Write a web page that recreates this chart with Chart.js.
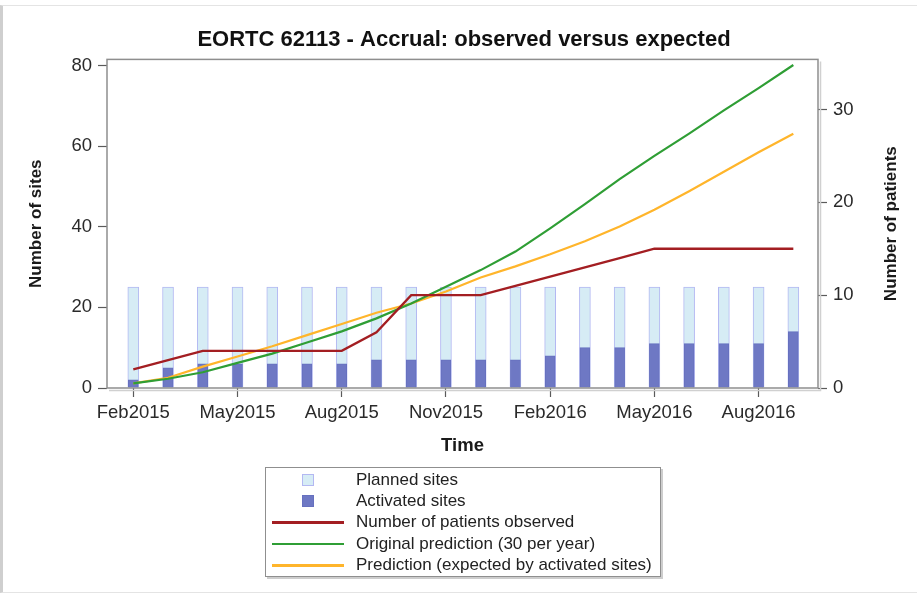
<!DOCTYPE html>
<html>
<head>
<meta charset="utf-8">
<script src="https://cdn.jsdelivr.net/npm/chart.js@4.4.1/dist/chart.umd.min.js"></script>
<style>
  html, body { margin: 0; padding: 0; background: #fff; }
  .page { position: relative; width: 917px; height: 597px; overflow: hidden; }
  .edge { position: absolute; left: 0; top: 5px; width: 914px; height: 586px;
          border-left: 3px solid #cfcfcf; border-top: 1px solid #e4e4e4; border-bottom: 1px solid #e4e4e4; }
  .chart-wrap { position: absolute; left: 0; top: 0; width: 917px; height: 597px; }
  #legend { position: absolute; left: 265px; top: 467px; width: 396px; height: 110px;
            box-sizing: border-box; border: 1px solid #8f8f8f; box-shadow: 2px 2px 0 #cdcdcd;
            background: #fff; padding-top: 1px;
            font-family: 'Liberation Sans', Arial, sans-serif; font-size: 17px; color: #222; }
  #legend .row { display: flex; align-items: center; height: 21.4px; white-space: nowrap; }
  #legend .sym { margin-left: 6px; width: 72px; display: flex; justify-content: center; align-items: center; }
  #legend .txt { margin-left: 12px; }
</style>
</head>
<body>
<div class="page">
  <div class="edge"></div>
  <div class="chart-wrap"><canvas id="accrual"></canvas></div>
  <div id="legend"></div>
</div>
<script>
// months on the x axis, one bar per month
const months = ['Feb2015','Mar2015','Apr2015','May2015','Jun2015','Jul2015','Aug2015','Sep2015','Oct2015','Nov2015',
                'Dec2015','Jan2016','Feb2016','Mar2016','Apr2016','May2016','Jun2016','Jul2016','Aug2016','Sep2016'];
const xTickIdx = [0, 3, 6, 9, 12, 15, 18];
const sitesTicks = [0, 20, 40, 60, 80];
const patientTicks = [0, 10, 20, 30];

// sites (left axis)
const plannedSites   = [25,25,25,25,25,25,25,25,25,25,25,25,25,25,25,25,25,25,25,25];
const activatedSites = [2,5,6,6,6,6,6,7,7,7,7,7,8,10,10,11,11,11,11,14];

// patients (right axis)
const observed   = [2,3,4,4,4,4,4,6,10,10,10,11,12,13,14,15,15,15,15,15];
const original   = [0.5,1.0,1.7,2.7,3.7,4.9,6.1,7.5,9.1,10.9,12.7,14.7,17.2,19.8,22.5,25.0,27.4,29.9,32.3,34.8];
const predicted  = [0.5,1.1,2.3,3.4,4.5,5.7,6.9,8.1,9.1,10.4,11.9,13.1,14.4,15.8,17.4,19.2,21.2,23.3,25.4,27.4];

const pts = arr => arr.map((v, i) => ({ x: i, y: v }));
const font = "'Liberation Sans', Arial, sans-serif";

// plot frame with a soft shadow, plus the right axis title read bottom-to-top
const framePlugin = {
  id: 'frame',
  afterDatasetsDraw(chart) {
    const { ctx, chartArea: a } = chart;
    ctx.save();
    ctx.strokeStyle = '#d0d0d0';
    ctx.lineWidth = 1.5;
    ctx.beginPath();
    ctx.moveTo(a.left + 2, a.bottom + 2.5); ctx.lineTo(a.right + 2.5, a.bottom + 2.5); ctx.lineTo(a.right + 2.5, a.top + 2);
    ctx.stroke();
    ctx.strokeStyle = '#8e8e8e';
    ctx.strokeRect(a.left, a.top, a.right - a.left, a.bottom - a.top);
    ctx.restore();
  },
  afterDraw(chart) {
    const { ctx, chartArea: a } = chart;
    ctx.save();
    ctx.translate(891, (a.top + a.bottom) / 2);
    ctx.rotate(-Math.PI / 2);
    ctx.font = `bold 17px ${font}`;
    ctx.fillStyle = '#1a1a1a';
    ctx.textAlign = 'center';
    ctx.textBaseline = 'middle';
    ctx.fillText('Number of patients', 0, 0);
    ctx.restore();
  }
};

const tickStyle = { color: '#2a2a2a', font: { family: font, size: 18.5 } };
const titleStyle = { display: true, color: '#1a1a1a', font: { family: font, size: 17, weight: 'bold' }, padding: 0 };
const axisGrid = { drawOnChartArea: false, drawTicks: true, offset: false, tickLength: 9, tickColor: '#5a5a5a', tickWidth: 1.2 };

const chart = new Chart(document.getElementById('accrual'), {
  type: 'bar',
  data: {
    datasets: [
      { label: 'Planned sites', data: pts(plannedSites), yAxisID: 'y', order: 2, grouped: false,
        backgroundColor: '#d6ecf5', borderColor: '#b3b8f2', borderWidth: 1, barThickness: 11 },
      { label: 'Activated sites', data: pts(activatedSites), yAxisID: 'y', order: 1, grouped: false,
        backgroundColor: '#6e78c4', borderColor: '#6670bf', borderWidth: 1, barThickness: 10 },
      { type: 'line', label: 'Number of patients observed', data: pts(observed), yAxisID: 'y1', order: 0,
        borderColor: '#a31e22', backgroundColor: '#a31e22', borderWidth: 2.3, pointRadius: 0, tension: 0 },
      { type: 'line', label: 'Original prediction (30 per year)', data: pts(original), yAxisID: 'y1', order: 0,
        borderColor: '#2f9e35', backgroundColor: '#2f9e35', borderWidth: 2.2, pointRadius: 0, tension: 0 },
      { type: 'line', label: 'Prediction (expected by activated sites)', data: pts(predicted), yAxisID: 'y1', order: 0,
        borderColor: '#ffb52b', backgroundColor: '#ffb52b', borderWidth: 2.2, pointRadius: 0, tension: 0 }
    ]
  },
  options: {
    responsive: true, maintainAspectRatio: false, animation: false,
    layout: { padding: { left: 26, right: 15, top: 0, bottom: 140 } },
    plugins: {
      legend: { display: false },
      tooltip: { enabled: false },
      title: {
        display: true, text: 'EORTC 62113 - Accrual: observed versus expected',
        color: '#111', font: { family: font, size: 22, weight: 'bold' }, padding: { top: 27, bottom: 6 }
      }
    },
    scales: {
      x: {
        type: 'linear', min: -0.757, max: 19.71, offset: false,
        afterBuildTicks: s => { s.ticks = xTickIdx.map(v => ({ value: v })); },
        afterFit: s => { s.height = 69; },
        ticks: { ...tickStyle, maxRotation: 0, autoSkip: false, padding: 5, callback: v => months[v] },
        grid: axisGrid, border: { display: false },
        title: { ...titleStyle, font: { family: font, size: 18.5, weight: 'bold' }, text: 'Time' }
      },
      y: {
        position: 'left', min: 0, max: 81.5,
        afterBuildTicks: s => { s.ticks = sitesTicks.map(v => ({ value: v })); },
        afterFit: s => { s.width = 81; },
        ticks: { ...tickStyle, padding: 6 },
        grid: axisGrid, border: { display: false },
        title: { ...titleStyle, text: 'Number of sites' }
      },
      y1: {
        position: 'right', min: 0, max: 35.4,
        afterBuildTicks: s => { s.ticks = patientTicks.map(v => ({ value: v })); },
        afterFit: s => { s.width = 84; },
        ticks: { ...tickStyle, padding: 6 },
        grid: axisGrid, border: { display: false },
        title: { display: false }
      }
    }
  },
  plugins: [framePlugin]
});

// legend box below the chart, built from the datasets
const legendEl = document.getElementById('legend');
chart.data.datasets.forEach(ds => {
  const row = document.createElement('div');
  row.className = 'row';
  const sym = document.createElement('span');
  sym.className = 'sym';
  const mark = document.createElement('span');
  if (ds.type === 'line') {
    mark.style.cssText = `display:block;width:72px;height:2.5px;background:${ds.borderColor}`;
  } else {
    mark.style.cssText = `display:block;width:10px;height:10px;background:${ds.backgroundColor};border:1px solid ${ds.borderColor}`;
  }
  sym.appendChild(mark);
  const txt = document.createElement('span');
  txt.className = 'txt';
  txt.textContent = ds.label;
  row.appendChild(sym);
  row.appendChild(txt);
  legendEl.appendChild(row);
});
</script>
</body>
</html>
